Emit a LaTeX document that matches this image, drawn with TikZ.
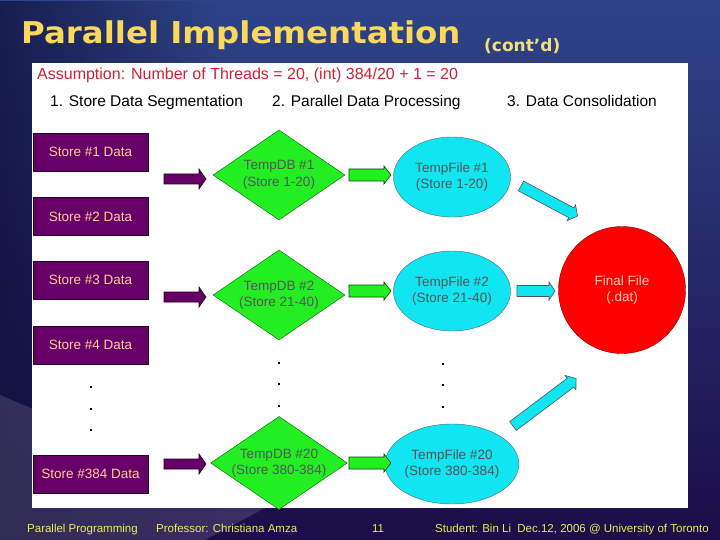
\documentclass[tikz,border=0pt]{standalone}
\usepackage{fontspec}
\setmainfont{Liberation Sans}
\newfontfamily\titlefont{DejaVu Sans}
\usetikzlibrary{shapes.geometric,fadings}
\definecolor{bgtop}{HTML}{2E4488}
\definecolor{bgbot}{HTML}{1C0D48}
\definecolor{bgdark}{HTML}{0E0E38}
\definecolor{titley}{HTML}{F9D85B}
\definecolor{conty}{HTML}{F3E07A}
\definecolor{footy}{HTML}{EBEB55}
\definecolor{assumred}{HTML}{CC2233}
\definecolor{storefill}{HTML}{660066}
\definecolor{storetext}{HTML}{FFCC99}
\definecolor{dbgreen}{HTML}{22EE22}
\definecolor{filecyan}{HTML}{11E5F2}
\definecolor{finalred}{HTML}{FF0000}
\definecolor{finaltext}{HTML}{F8CDB8}
\definecolor{greytext}{HTML}{555555}
\tikzset{
  storebox/.style={draw=black!60!storefill, fill=storefill, text=storetext,
    minimum width=115pt, minimum height=38pt, inner sep=0pt,
    font=\fontsize{13.5}{16}\selectfont},
  dbnode/.style={diamond, draw=black!60!green, fill=dbgreen, text=greytext,
    minimum width=132pt, minimum height=90pt, aspect=1.47, inner sep=0pt,
    align=center, font=\fontsize{13.5}{16.5}\selectfont},
  filenode/.style={ellipse, draw=black!60!cyan, fill=filecyan, text=greytext,
    minimum width=117pt, minimum height=80pt, inner sep=0pt,
    align=center, font=\fontsize{13.5}{16.5}\selectfont},
  finalnode/.style={circle, draw=black!50!red, fill=finalred, text=finaltext,
    minimum size=127pt, inner sep=0pt, align=center,
    font=\fontsize{13.5}{16.5}\selectfont},
  dotnode/.style={rectangle, fill=black, inner sep=0pt, minimum size=2.6pt},
  headtext/.style={anchor=base west, font=\fontsize{15.5}{18}\selectfont},
  foottext/.style={anchor=base west, text=footy, font=\fontsize{11.5}{13}\selectfont},
  purplearrow/.style={draw=black!70!storefill, fill=storefill, line width=0.6pt},
  greenarrow/.style={draw=black!70!green, fill=dbgreen, line width=0.6pt},
  cyanarrow/.style={draw=black!70!cyan, fill=filecyan, line width=0.6pt},
  pics/barrow/.style args={#1/#2/#3/#4}{code={
    \draw[pic actions] (0,-#2) -- ({#1-#4},-#2) -- ({#1-#4},-#3) -- (#1,0)
      -- ({#1-#4},#3) -- ({#1-#4},#2) -- (0,#2) -- cycle;}}
}
\begin{document}
\begin{tikzpicture}[x=1pt,y=-1pt]
\useasboundingbox (0,0) rectangle (720,540);
% background
\shade[top color=bgtop, bottom color=bgbot] (0,0) rectangle (720,540);
\fill[bgdark, path fading=east, fill opacity=0.7] (0,0) rectangle (220,540);
\fill[white, fill opacity=0.13] (0,395) -- (265,508) -- (205,540) -- (0,540) -- cycle;
% white panel
\fill[white] (32,63) rectangle (688,508);
% title
\node[anchor=base west, text=titley, font=\titlefont\bfseries\fontsize{30}{34}\selectfont, xscale=1.08, inner sep=0pt] (title) at (21,43.5) {Parallel Implementation};
\node[anchor=base west, text=conty, font=\titlefont\bfseries\fontsize{17}{20}\selectfont, inner sep=0pt] (cont) at (484,52) {(cont’d)};
% assumption and headers
\node[anchor=base west, text=assumred, font=\fontsize{16}{19}\selectfont, inner sep=0pt] (assum) at (37,80) {Assumption: Number of Threads = 20, (int) 384/20 + 1 = 20};
\node[headtext, inner sep=0pt] (h1) at (50,107) {1. Store Data Segmentation};
\node[headtext, inner sep=0pt] (h2) at (272,107) {2. Parallel Data Processing};
\node[headtext, inner sep=0pt] (h3) at (507,107) {3. Data Consolidation};
% store boxes
\node[storebox] (s1) at (90.5,152) {Store \#1 Data};
\node[storebox] (s2) at (90.5,216.5) {Store \#2 Data};
\node[storebox] (s3) at (90.5,280) {Store \#3 Data};
\node[storebox] (s4) at (90.5,345) {Store \#4 Data};
\node[storebox] (s384) at (90.5,474) {Store \#384 Data};
\node[dotnode] (sd1) at (91,387) {};
\node[dotnode] (sd2) at (91,409) {};
\node[dotnode] (sd3) at (91,430) {};
% temp DBs
\node[dbnode] (db1) at (279,175) {TempDB \#1\\(Store 1-20)};
\node[dbnode] (db2) at (279,295) {TempDB \#2\\(Store 21-40)};
\node[dbnode] (db20) at (279,463) {TempDB \#20\\(Store 380-384)};
\node[dotnode] (dd1) at (279,363) {};
\node[dotnode] (dd2) at (279,384) {};
\node[dotnode] (dd3) at (279,406) {};
% temp files
\node[filenode] (f1) at (452,177) {TempFile \#1\\(Store 1-20)};
\node[filenode] (f2) at (452,291) {TempFile \#2\\(Store 21-40)};
\node[filenode] (f20) at (452,464) {TempFile \#20\\(Store 380-384)};
\node[dotnode] (fd1) at (443,364) {};
\node[dotnode] (fd2) at (443,385) {};
\node[dotnode] (fd3) at (443,407) {};
% final
\node[finalnode] (final) at (622,290) {Final File\\(.dat)};
% block arrows
\pic[purplearrow] at (164,179) {barrow=42/5/10/7};
\pic[purplearrow] at (164,297) {barrow=42/5/10/7};
\pic[purplearrow] at (164,464) {barrow=42/5/10/7};
\pic[greenarrow] at (349,175) {barrow=42/6/9/7};
\pic[greenarrow] at (349,291) {barrow=42/6/9/7};
\pic[greenarrow] at (349,463) {barrow=42/6/9/7};
\pic[cyanarrow, rotate=-28] at (521,186) {barrow=64/5.5/9/7};
\pic[cyanarrow] at (517,291) {barrow=38/5.5/9/6};
\pic[cyanarrow, rotate=37] at (513,426) {barrow=79/5.5/9/7};
% footer
\node[foottext, inner sep=0pt] (ft1) at (27,532) {Parallel Programming};
\node[foottext, inner sep=0pt] (ft2) at (156,532) {Professor: Christiana Amza};
\node[foottext, inner sep=0pt] (ft3) at (372,532) {11};
\node[foottext, inner sep=0pt] (ft4) at (435,532) {Student: Bin Li\ \ Dec.12, 2006 @ University of Toronto};
\end{tikzpicture}
\end{document}
